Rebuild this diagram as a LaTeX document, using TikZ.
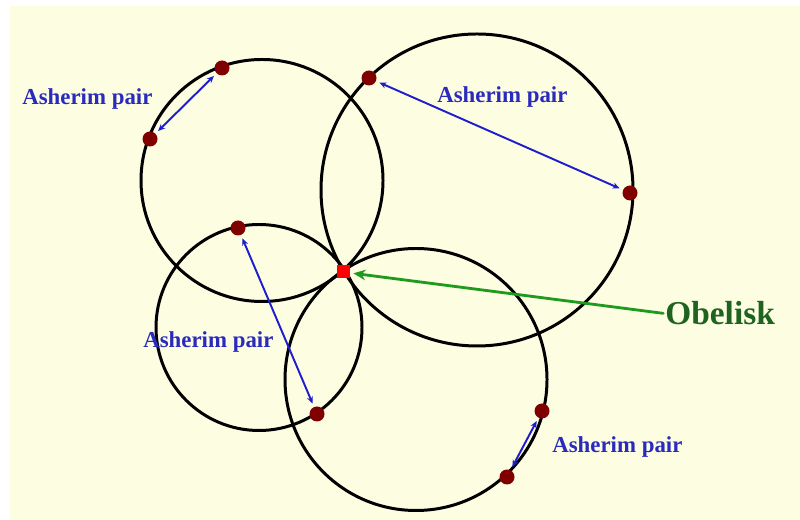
\documentclass[tikz,border=0pt]{standalone}
\usepackage{fontspec}
\setmainfont{Liberation Serif}
\usepackage{tikz}
\usetikzlibrary{arrows.meta}
\definecolor{cream}{HTML}{FDFDE2}
\definecolor{pairblue}{HTML}{2A2ABD}
\definecolor{arrowblue}{HTML}{1E1ECF}
\definecolor{stonered}{HTML}{800000}
\definecolor{obgreen}{HTML}{1E6420}
\definecolor{arrowgreen}{HTML}{1E9A1E}
\tikzset{
  every picture/.style={line join=round, line cap=round, >=Stealth},
  ring/.style={line width=1.7pt, black},
  asherim/.style={circle, fill=stonered, inner sep=0pt, minimum size=0.30cm},
  obelisk/.style={rectangle, fill=red, inner sep=0pt, minimum size=0.26cm},
  pairarrow/.style={{Stealth[length=4pt,width=3.5pt]}-{Stealth[length=4pt,width=3.5pt]}, line width=1.1pt, arrowblue, shorten <=2pt, shorten >=2pt},
  pairlabel/.style={anchor=base west, inner sep=0pt, text=pairblue, font=\bfseries\fontsize{13}{15}\selectfont},
}

\begin{document}
\begin{tikzpicture}
\useasboundingbox (0,0) rectangle (16.000,10.400);
\fill[white] (0,0) rectangle (16.000,10.400);
\fill[cream] (0.200,0) rectangle (16.000,10.280);
% the four circles
\draw[ring] (5.240,6.790) circle[radius=2.420];
\draw[ring] (9.540,6.600) circle[radius=3.120];
\draw[ring] (5.180,3.850) circle[radius=2.060];
\draw[ring] (8.320,2.810) circle[radius=2.620];
% obelisk and asherim
\node[obelisk] (ob) at (6.860,4.960) {};
\node[asherim] (a1) at (4.440,9.040) {};
\node[asherim] (a2) at (3.000,7.620) {};
\node[asherim] (b1) at (7.380,8.840) {};
\node[asherim] (b2) at (12.600,6.540) {};
\node[asherim] (d1) at (4.760,5.840) {};
\node[asherim] (d2) at (6.340,2.120) {};
\node[asherim] (e1) at (10.840,2.180) {};
\node[asherim] (e2) at (10.140,0.860) {};
\draw[pairarrow] (a1)--(a2);
\draw[pairarrow] (b1)--(b2);
\draw[pairarrow] (d1)--(d2);
\draw[pairarrow] (e1)--(e2);
\node[pairlabel] (l1) at (0.440,8.300) {Asherim pair};
\node[pairlabel] (l2) at (8.740,8.340) {Asherim pair};
\node[pairlabel] (l3) at (2.860,3.440) {Asherim pair};
\node[pairlabel] (l4) at (11.040,1.340) {Asherim pair};
\node[anchor=base west, inner sep=0pt, text=obgreen, font=\bfseries\fontsize{19}{22}\selectfont] (obl) at (13.300,3.900) {Obelisk};
\draw[-{Stealth[length=7pt,width=6pt]}, line width=1.6pt, arrowgreen, shorten <=1pt, shorten >=2pt] (obl.west)--(ob);
\end{tikzpicture}
\end{document}
